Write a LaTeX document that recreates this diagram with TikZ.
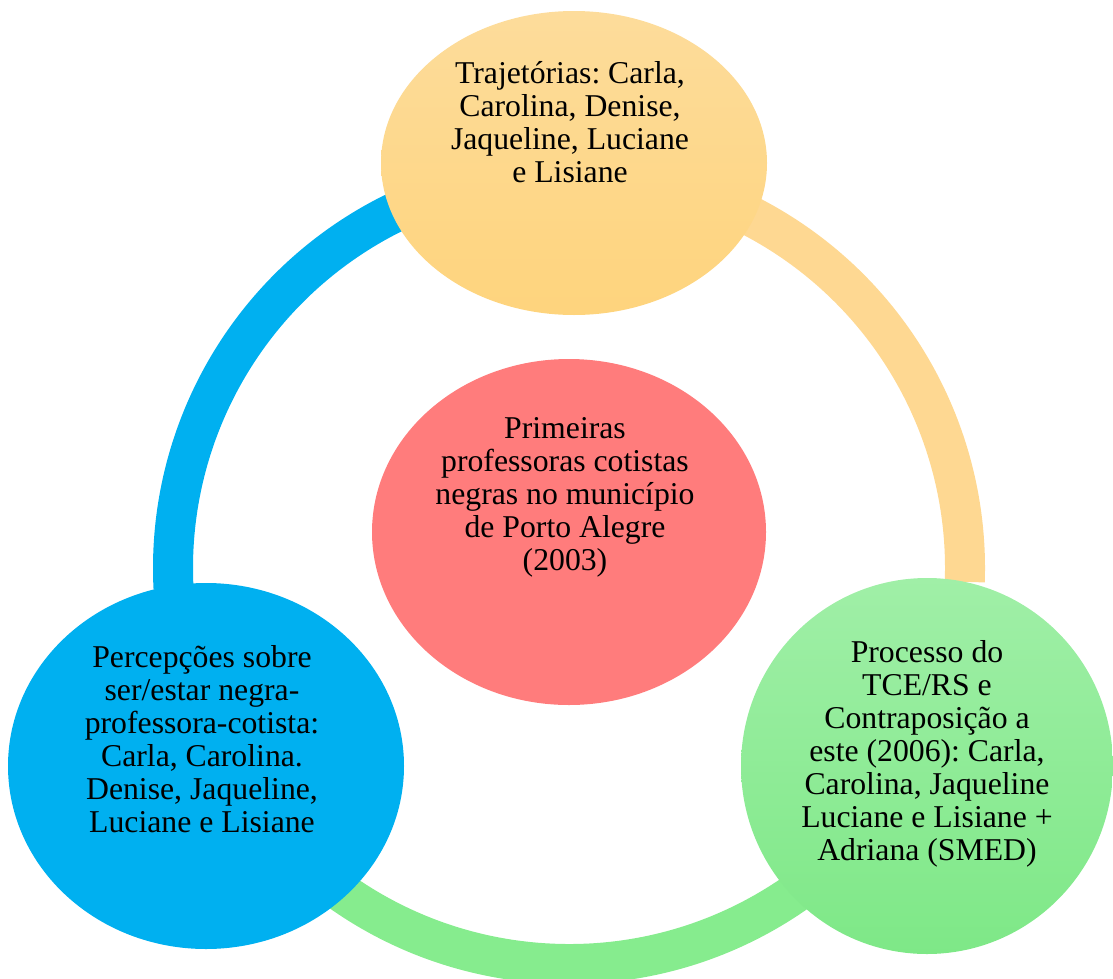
\documentclass[tikz,border=0pt]{standalone}
\usepackage{fontspec}
\setmainfont{Liberation Serif}
\frenchspacing
\usetikzlibrary{shapes.geometric,calc}
\definecolor{cycBlue}{RGB}{0,176,240}
\definecolor{cycSand}{RGB}{254,216,146}
\definecolor{cycSandTop}{RGB}{253,220,155}
\definecolor{cycSandLow}{RGB}{254,212,125}
\definecolor{cycMint}{RGB}{134,236,142}
\definecolor{cycMintTop}{RGB}{160,239,167}
\definecolor{cycMintLow}{RGB}{126,232,135}
\definecolor{cycRose}{RGB}{255,124,124}

\begin{document}
\begin{tikzpicture}[x=0.75pt, y=0.75pt,
    bubble/.style={ellipse, draw=none, inner sep=0pt},
    ring/.style={line width=30pt},
    label/.style={align=center, font=\fontsize{23.8}{24.75}\selectfont}]
  \useasboundingbox (0,0) rectangle (1113,-978);
  % ring round the centre
  \coordinate (hub) at (569,-568);
  \draw[ring, cycMint] ($(hub)+(-4:396)$) arc[start angle=-4, end angle=-176, radius=396];
  \draw[ring, cycBlue] ($(hub)+(183:396)$) arc[start angle=183, end angle=90, radius=396];
  \draw[ring, cycSand] ($(hub)+(90:396)$) arc[start angle=90, end angle=-2, radius=396];
  % top node
  \node[bubble, top color=cycSandTop, bottom color=cycSandLow,
        minimum width=289.5pt, minimum height=228pt] (traj) at (574,-163) {};
  \node[label] (trajtxt) at (570,-122) {Trajetórias: Carla,\\Carolina, Denise,\\Jaqueline, Luciane\\e Lisiane};
  % centre node
  \node[bubble, fill=cycRose, minimum width=295.5pt, minimum height=259.5pt] (prim) at (569,-532) {};
  \node[label] (primtxt) at (565,-497) {Primeiras\\professoras cotistas\\negras no município\\de Porto Alegre\\(2003)};
  % left node
  \node[bubble, fill=cycBlue, minimum width=297pt, minimum height=274.5pt] (perc) at (206,-766) {};
  \node[label] (perctxt) at (202,-739) {Percepções sobre\\ser/estar negra-\\professora-cotista:\\Carla, Carolina.\\Denise, Jaqueline,\\Luciane e Lisiane};
  % right node
  \node[bubble, top color=cycMintTop, bottom color=cycMintLow,
        minimum width=279pt, minimum height=282pt] (tce) at (927,-766) {};
  \node[label] (tcetxt) at (927,-754) {Processo do\\TCE/RS e\\Contraposição a\\este (2006): Carla,\\Carolina, Jaqueline\\Luciane e Lisiane +\\Adriana (SMED)};
\end{tikzpicture}
\end{document}
